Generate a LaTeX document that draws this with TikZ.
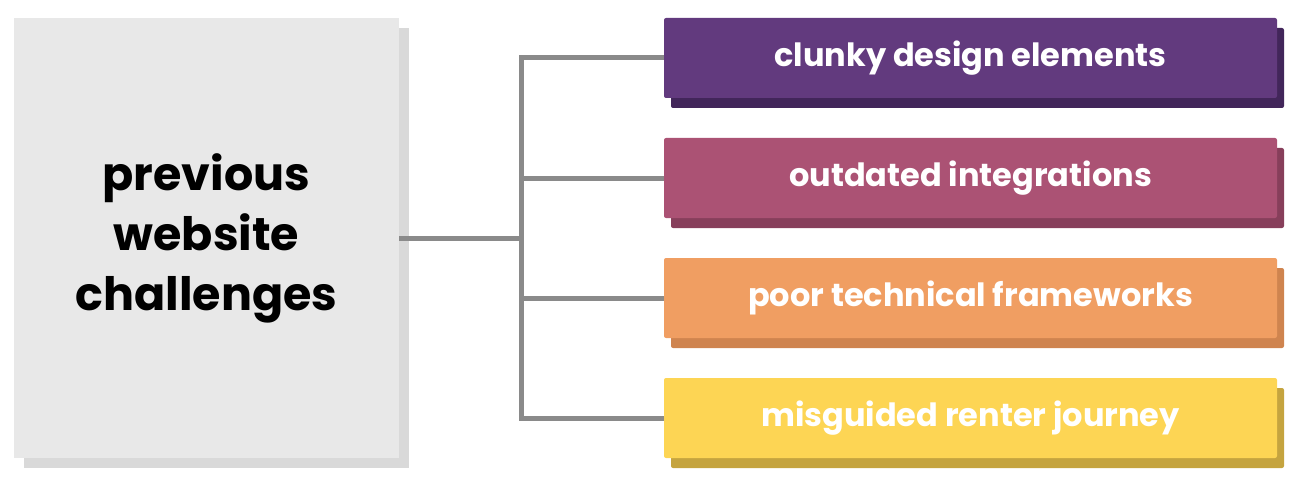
\documentclass[tikz,border=0pt]{standalone}
\usepackage{fontspec}
\setmainfont{Poppins}
\usepackage{tikz}
\usetikzlibrary{shadows}
\definecolor{boxgray}{HTML}{E8E8E8}
\definecolor{shgray}{HTML}{D9D9D9}
\definecolor{linegray}{HTML}{8A8A8A}
\definecolor{plum}{HTML}{623A7E}
\definecolor{plumdark}{HTML}{42265A}
\definecolor{rose}{HTML}{AB5274}
\definecolor{rosedark}{HTML}{873F5B}
\definecolor{peach}{HTML}{F09E62}
\definecolor{peachdark}{HTML}{CF844F}
\definecolor{sun}{HTML}{FDD554}
\definecolor{sundark}{HTML}{C5A43F}

\begin{document}
\begin{tikzpicture}[x=1pt,y=-1pt]
  \tikzstyle{link}=[draw=linegray,line width=5pt]
  \tikzstyle{main}=[rectangle,fill=boxgray,minimum width=385pt,minimum height=440pt,inner sep=0pt,
    align=center,font=\fontsize{46}{60}\selectfont\bfseries,
    general shadow={fill=shgray,shadow xshift=10pt,shadow yshift=-10pt}]
  \tikzstyle{issue}=[rectangle,rounded corners=2pt,minimum width=613pt,minimum height=80pt,inner sep=0pt,
    text=white,font=\fontsize{32}{36}\selectfont\bfseries]
  \useasboundingbox (0,0) rectangle (1304,484);
  \node(prev) at (206.5,238)[main]{previous\\website\\challenges};
  \node(clunky) at (970.5,58)[issue,fill=plum,
    general shadow={fill=plumdark,rounded corners=2pt,shadow xshift=7pt,shadow yshift=-10pt}]{clunky design elements};
  \node(outdated) at (970.5,178)[issue,fill=rose,
    general shadow={fill=rosedark,rounded corners=2pt,shadow xshift=7pt,shadow yshift=-10pt}]{outdated integrations};
  \node(poor) at (970.5,298)[issue,fill=peach,
    general shadow={fill=peachdark,rounded corners=2pt,shadow xshift=7pt,shadow yshift=-10pt}]{poor technical frameworks};
  \node(journey) at (970.5,418)[issue,fill=sun,
    general shadow={fill=sundark,rounded corners=2pt,shadow xshift=7pt,shadow yshift=-10pt}]{misguided renter journey};
  \coordinate(hub) at (521,238);
  \draw[link](prev.east)--(hub);
  \draw[link](clunky.west)-|(hub)|-(journey.west);
  \draw[link](hub|-outdated.west)--(outdated.west);
  \draw[link](hub|-poor.west)--(poor.west);
\end{tikzpicture}
\end{document}
